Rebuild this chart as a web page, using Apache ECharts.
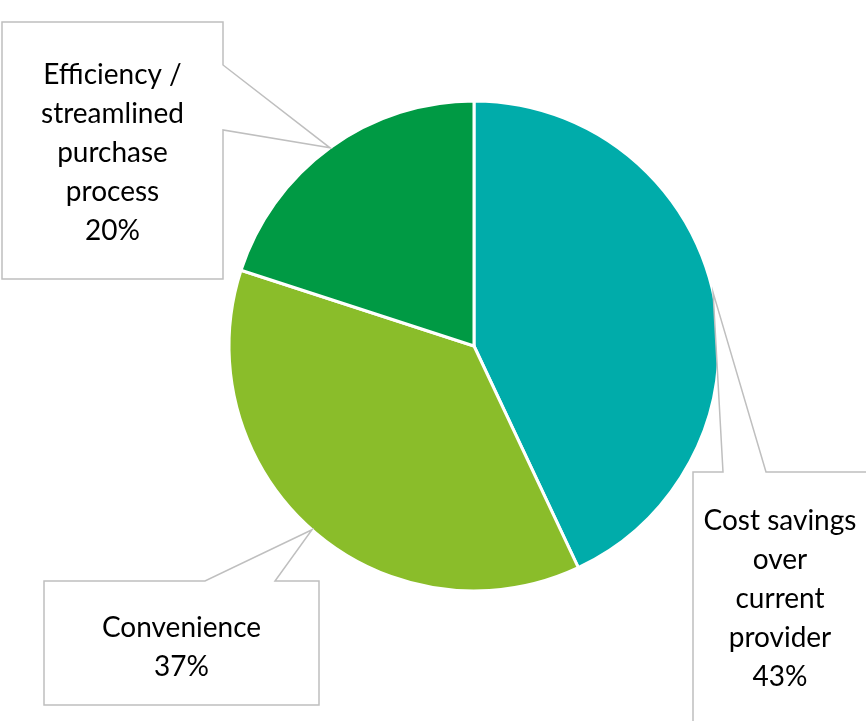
<!DOCTYPE html>
<html>
<head>
<meta charset="utf-8">
<script src="https://cdn.jsdelivr.net/npm/echarts@6/dist/echarts.min.js"></script>
<style>
  html, body { margin: 0; padding: 0; background: #fff; }
  #chart { width: 866px; height: 721px; }
</style>
</head>
<body>
<div id="chart"></div>
<script>
// Reasons given, share of respondents (%)
const categories = [
  'Cost savings over current provider',
  'Convenience',
  'Efficiency / streamlined purchase process'
];
const shares = [43, 37, 20];
// Wrapped text shown in each callout box
const calloutText = [
  ['Cost savings', 'over', 'current', 'provider'],
  ['Convenience'],
  ['Efficiency /', 'streamlined', 'purchase', 'process']
];
const colors = ['#00ACAA', '#8ABD2A', '#009A44'];

const FONT = '28px Lato, "Open Sans", sans-serif';
const LINE_H = 39;

// Callout box layout: rectangle plus the two points where the pointer leaves the box
const callouts = [
  { x0: 693, y0: 472, x1: 868, y1: 740, side: 'top', a: 723, b: 766, tx: 780, ty: 599 },
  { x0: 44, y0: 581, x1: 319, y1: 705, side: 'top', a: 205, b: 275, tx: 181.5, ty: 647 },
  { x0: 2, y0: 22, x1: 223, y1: 279, side: 'right', a: 65, b: 130, tx: 112.5, ty: 153 }
];

const chart = echarts.init(document.getElementById('chart'), null, { renderer: 'canvas' });

chart.setOption({
  backgroundColor: '#ffffff',
  animation: false,
  series: [{
    type: 'pie',
    center: [474, 346],
    radius: 245,
    startAngle: 90,
    clockwise: true,
    label: { show: false },
    labelLine: { show: false },
    itemStyle: { borderColor: '#ffffff', borderWidth: 3 },
    data: categories.map((name, i) => ({
      name: name,
      value: shares[i],
      itemStyle: { color: colors[i] }
    }))
  }]
});

// Build callouts whose pointers end at each slice's mid-angle on the rim
const data = chart.getModel().getSeriesByIndex(0).getData();
const graphics = [];
callouts.forEach((c, i) => {
  const lay = data.getItemLayout(i);
  const mid = (lay.startAngle + lay.endAngle) / 2;
  const tip = [lay.cx + lay.r * Math.cos(mid), lay.cy + lay.r * Math.sin(mid)];
  let pts;
  if (c.side === 'top') {
    pts = [[c.x0, c.y0], [c.a, c.y0], tip, [c.b, c.y0], [c.x1, c.y0], [c.x1, c.y1], [c.x0, c.y1]];
  } else {
    pts = [[c.x0, c.y0], [c.x1, c.y0], [c.x1, c.a], tip, [c.x1, c.b], [c.x1, c.y1], [c.x0, c.y1]];
  }
  graphics.push({
    type: 'polygon',
    z: 10,
    shape: { points: pts },
    style: { fill: '#ffffff', stroke: '#BFBFBF', lineWidth: 1.5 }
  });
  graphics.push({
    type: 'text',
    z: 11,
    x: c.tx,
    y: c.ty,
    style: {
      text: calloutText[i].concat([shares[i] + '%']).join('\n'),
      font: FONT,
      fill: '#000000',
      align: 'center',
      verticalAlign: 'middle',
      lineHeight: LINE_H
    }
  });
});

chart.setOption({ graphic: graphics });
</script>
</body>
</html>
